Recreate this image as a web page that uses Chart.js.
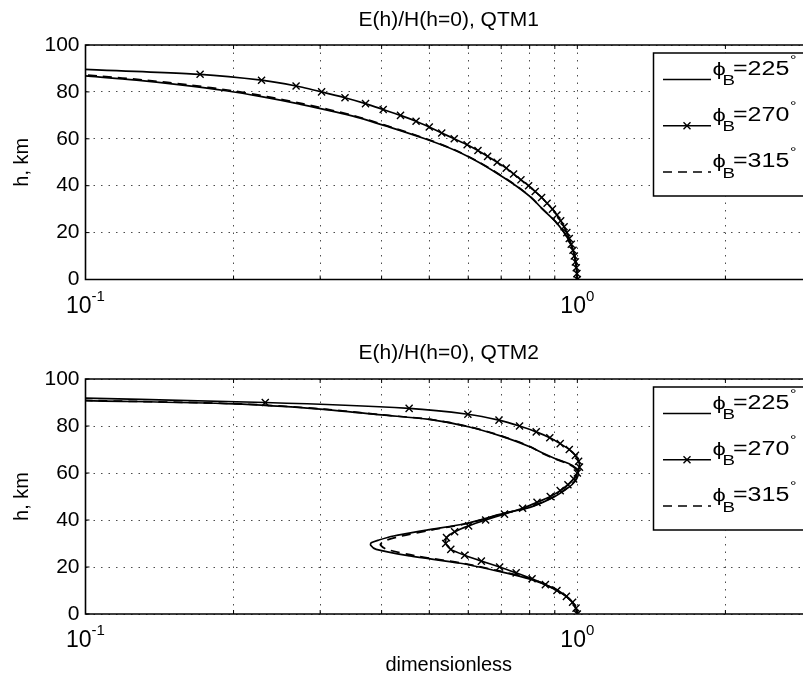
<!DOCTYPE html>
<html>
<head>
<meta charset="utf-8">
<script src="https://cdn.jsdelivr.net/npm/chart.js"></script>
<style>
  html, body { margin: 0; padding: 0; background: #fff; overflow: hidden; }
  #wrap { position: relative; width: 803px; height: 675px; overflow: hidden; }
  canvas { position: absolute; left: 0; }
  #qtm1 { top: 0; }
  #qtm2 { top: 330px; }
</style>
</head>
<body>
<div id="wrap">
  <canvas id="qtm1" width="812" height="330"></canvas>
  <canvas id="qtm2" width="812" height="345"></canvas>
</div>
<script>
// x = E(h)/H(h=0) (log axis), y = height in km
const xTickVals = [0.1, 0.2, 0.3, 0.4, 0.5, 0.6, 0.7, 0.8, 0.9, 1, 2, 3];
const xTickLabels = { 0.1: ['10', '-1'], 1: ['10', '0'] };   // base, exponent
const legendAngles = ['225', '270', '315'];

// QTM1
const q1H225 = [0, 5, 10, 15, 20, 25, 30, 35, 40, 45, 50, 55, 60, 65, 70, 75, 78, 80.5, 83, 85, 86.8, 88];
const q1X225 = [1.0, 0.996, 0.988, 0.97, 0.94, 0.9, 0.85, 0.805, 0.75, 0.69, 0.63, 0.565, 0.49, 0.415, 0.345, 0.27, 0.228, 0.193, 0.156, 0.127, 0.1, 0.085];
const q1H270 = [0, 2.5, 5, 7.5, 10, 12.5, 15, 17.5, 20, 22.5, 25, 27.5, 30, 32.5, 35, 37.5, 40, 42.5, 45, 47.5,
                50, 52.5, 55, 57.5, 60, 62.5, 65, 67.5, 70, 72.5, 75, 77.5, 80, 82.5, 85, 87.5, 90];
const q1X270 = [1.0, 0.998, 0.995, 0.991, 0.986, 0.98, 0.972, 0.963, 0.952, 0.94, 0.925, 0.909, 0.89, 0.868, 0.846, 0.821, 0.796, 0.768, 0.742, 0.717,
                0.687, 0.657, 0.628, 0.597, 0.562, 0.53, 0.5, 0.47, 0.437, 0.403, 0.371, 0.337, 0.302, 0.268, 0.228, 0.171, 0.09];
const q1H315 = [0, 5, 10, 15, 20, 25, 30, 35, 40, 45, 50, 55, 60, 65, 70, 75, 78, 80.5, 83, 85, 86.8, 88];
const q1X315 = [1.0, 0.996, 0.988, 0.97, 0.94, 0.9, 0.85, 0.805, 0.752, 0.692, 0.632, 0.567, 0.493, 0.418, 0.35, 0.276, 0.234, 0.199, 0.162, 0.133, 0.106, 0.09];

// QTM2
const q2H225 = [0, 3, 6.7, 10.9, 14.8, 18, 21.6, 24.7, 27.5, 29.3, 30.3, 31.5, 33.2, 35.7, 38.6, 42.8, 45, 47.5,
                50, 52.5, 55, 57.5, 60, 62, 64, 66.2, 68.5, 71.2, 75.7, 79.7, 82.8, 84.7, 87.2, 89.4, 90.8, 91.5];
const q2X225 = [1.0, 0.99, 0.96, 0.895, 0.802, 0.697, 0.578, 0.457, 0.39, 0.38, 0.381, 0.395, 0.423, 0.494, 0.597, 0.708, 0.79, 0.85,
                0.9, 0.94, 0.975, 0.997, 1.005, 0.995, 0.96, 0.9, 0.85, 0.8, 0.7, 0.6, 0.5, 0.4, 0.3, 0.2, 0.1, 0.07];
const q2H270 = [0, 2.5, 5, 7.5, 10, 12.5, 15, 17.5, 20, 22.5, 25, 27.5, 30, 32.5, 35, 37.5, 40, 42.5, 45, 47.5,
                50, 52.5, 55, 57.5, 60, 62.5, 65, 67.5, 70, 72.5, 75, 77.5, 80, 82.5, 85, 87.5, 90, 92.5];
const q2X270 = [1.0, 0.994, 0.978, 0.95, 0.909, 0.861, 0.809, 0.751, 0.695, 0.638, 0.59, 0.553, 0.54, 0.542, 0.563, 0.601, 0.651, 0.711, 0.774, 0.828,
                0.881, 0.923, 0.957, 0.983, 1.0, 1.01, 1.006, 0.991, 0.963, 0.923, 0.879, 0.825, 0.763, 0.693, 0.599, 0.455, 0.232, 0.072];
const q2H315 = [0, 3, 6.7, 10.9, 14.8, 18, 21.6, 24.7, 27.5, 29.3, 30.3, 31.5, 33.2, 35.7, 38.6, 42.8, 45, 47.5,
                50, 52.5, 55, 57.5, 60, 62, 64, 66.2, 68.5, 71.2, 75.7, 79.7, 82.8, 84.7, 87.2, 89.4, 90.8, 91.5];
const q2X315 = [1.0, 0.99, 0.96, 0.9, 0.81, 0.705, 0.585, 0.47, 0.41, 0.398, 0.4, 0.41, 0.44, 0.505, 0.6, 0.71, 0.788, 0.847,
                0.897, 0.937, 0.972, 0.994, 1.0, 0.99, 0.955, 0.895, 0.846, 0.803, 0.703, 0.603, 0.503, 0.403, 0.305, 0.206, 0.105, 0.075];

const FONT = '"Liberation Sans", Arial, Helvetica, sans-serif';
const GRID = 'rgba(0,0,0,0.7)';

function pts(xs, hs) {
  return hs.map((h, i) => ({ x: xs[i], y: h }));
}

function makeDatasets(h225, x225, h270, x270, h315, x315) {
  const base = {
    showLine: true, fill: false, borderColor: '#000', borderWidth: 1.7,
    pointBorderColor: '#000', pointBackgroundColor: '#000', pointBorderWidth: 1.4
  };
  return [
    { label: 'ϕB=225°', data: pts(x225, h225), pointRadius: 0, tension: 0.3, borderDash: [] },
    { label: 'ϕB=270°', data: pts(x270, h270), pointRadius: 5, pointStyle: 'crossRot', tension: 0.2, borderDash: [] },
    { label: 'ϕB=315°', data: pts(x315, h315), pointRadius: 0, tension: 0.3, borderDash: [9, 6] }
  ].map(d => Object.assign({}, base, d));
}

// stretched text, Matlab-like
function txt(ctx, s, x, y, size) {
  ctx.save();
  ctx.translate(x, y);
  ctx.scale(1.25, 1);
  ctx.font = size + 'px ' + FONT;
  ctx.fillText(s, 0, 0);
  ctx.restore();
}

const boxPlugin = {
  id: 'matlabBox',
  afterDatasetsDraw(chart) {
    const { ctx, chartArea: a, scales } = chart;
    ctx.save();
    ctx.strokeStyle = '#000';
    ctx.lineWidth = 1.6;
    ctx.setLineDash([]);
    // axes box (right side lies outside the picture)
    ctx.beginPath();
    ctx.moveTo(a.right + 2, a.top); ctx.lineTo(a.left, a.top);
    ctx.lineTo(a.left, a.bottom); ctx.lineTo(a.right + 2, a.bottom);
    ctx.stroke();
    ctx.lineWidth = 1;
    ctx.beginPath();
    scales.x.ticks.forEach(t => {
      const px = scales.x.getPixelForValue(t.value);
      ctx.moveTo(px, a.bottom); ctx.lineTo(px, a.bottom - 4);
      ctx.moveTo(px, a.top); ctx.lineTo(px, a.top + 4);
    });
    scales.y.ticks.forEach(t => {
      const py = scales.y.getPixelForValue(t.value);
      ctx.moveTo(a.left, py); ctx.lineTo(a.left + 4, py);
    });
    ctx.stroke();

    // x tick labels 10^n with raised exponent
    ctx.fillStyle = '#000';
    ctx.textBaseline = 'alphabetic';
    ctx.textAlign = 'left';
    Object.keys(xTickLabels).forEach(k => {
      const [b, e] = xTickLabels[k];
      const px = scales.x.getPixelForValue(Number(k));
      ctx.font = '23px ' + FONT;
      const wb = ctx.measureText(b).width;
      ctx.font = '15px ' + FONT;
      const we = ctx.measureText(e).width;
      const x0 = px - (wb + we) / 2;
      ctx.font = '23px ' + FONT;
      ctx.fillText(b, x0, a.bottom + 33);
      ctx.font = '15px ' + FONT;
      ctx.fillText(e, x0 + wb, a.bottom + 21);
    });
    ctx.restore();
  },
  afterDraw(chart) {
    const { ctx, chartArea: a } = chart;
    const bx = 653.5, by = a.top + 8, bh = 143;
    ctx.save();
    ctx.fillStyle = '#fff';
    ctx.fillRect(bx, by, 200, bh);
    ctx.strokeStyle = '#000';
    ctx.lineWidth = 1.5;
    ctx.beginPath();
    ctx.moveTo(bx + 200, by); ctx.lineTo(bx, by);
    ctx.lineTo(bx, by + bh); ctx.lineTo(bx + 200, by + bh);
    ctx.stroke();
    chart.data.datasets.forEach((ds, i) => {
      const ly = a.top + 34.5 + i * 46.2;
      ctx.lineWidth = 1.5;
      ctx.setLineDash(ds.borderDash || []);
      ctx.beginPath();
      ctx.moveTo(663, ly); ctx.lineTo(711, ly);
      ctx.stroke();
      ctx.setLineDash([]);
      if (ds.pointStyle === 'crossRot') {
        ctx.lineWidth = 1.4;
        ctx.beginPath();
        ctx.moveTo(683.5, ly - 3.5); ctx.lineTo(690.5, ly + 3.5);
        ctx.moveTo(683.5, ly + 3.5); ctx.lineTo(690.5, ly - 3.5);
        ctx.stroke();
      }
      ctx.fillStyle = '#000';
      ctx.textBaseline = 'alphabetic';
      txt(ctx, 'ϕ', 712.5, ly - 5, 19);
      txt(ctx, 'B', 722.5, ly + 5.7, 15);
      txt(ctx, '=' + legendAngles[i], 733, ly - 5, 20);
      txt(ctx, '°', 790, ly - 16, 13);
    });
    ctx.restore();
  }
};

function makeChart(id, title, datasets, opt) {
  return new Chart(document.getElementById(id), {
    type: 'scatter',
    data: { datasets: datasets },
    options: {
      responsive: false,
      animation: false,
      events: [],
      layout: { padding: 0, autoPadding: false },
      plugins: {
        legend: { display: false },
        tooltip: { enabled: false },
        title: {
          display: true, text: title, fullSize: false, color: '#000',
          font: { size: 21, weight: 'normal', family: FONT, lineHeight: 1.2 },
          padding: { top: opt.titleTop, bottom: opt.titleBottom }
        }
      },
      scales: {
        x: {
          type: 'logarithmic', min: 0.1, max: 3,
          afterBuildTicks: s => { s.ticks = xTickVals.map(v => ({ value: v })); },
          afterFit: s => { s.height = opt.xHeight; },
          ticks: { autoSkip: false, maxRotation: 0, minRotation: 0, padding: 0, callback: () => '' },
          grid: { color: GRID, lineWidth: 1, drawTicks: false },
          border: { display: false, dash: [1.5, 6] },
          title: {
            display: !!opt.xTitle, text: opt.xTitle || '', color: '#000',
            font: { size: 20, family: FONT, lineHeight: 1 },
            padding: { top: 0, bottom: 0 }
          }
        },
        y: {
          min: 0, max: 100,
          afterFit: s => { s.width = 85.5; },
          ticks: { stepSize: 20, padding: 6, color: '#000', font: { size: 21, family: FONT } },
          grid: { color: GRID, lineWidth: 1, drawTicks: false },
          border: { display: false, dash: [1.5, 6] },
          title: {
            display: true, text: 'h, km', color: '#000',
            font: { size: 20, family: FONT },
            padding: { top: 10, bottom: 0 }
          }
        }
      }
    },
    plugins: [boxPlugin]
  });
}

const chart1 = makeChart('qtm1', 'E(h)/H(h=0), QTM1',
  makeDatasets(q1H225, q1X225, q1H270, q1X270, q1H315, q1X315),
  { titleTop: 7.4, titleBottom: 12.4, xHeight: 50.5 });

const chart2 = makeChart('qtm2', 'E(h)/H(h=0), QTM2',
  makeDatasets(q2H225, q2X225, q2H270, q2X270, q2H315, q2X315),
  { titleTop: 10.7, titleBottom: 13.1, xHeight: 61, xTitle: 'dimensionless' });
</script>
</body>
</html>
